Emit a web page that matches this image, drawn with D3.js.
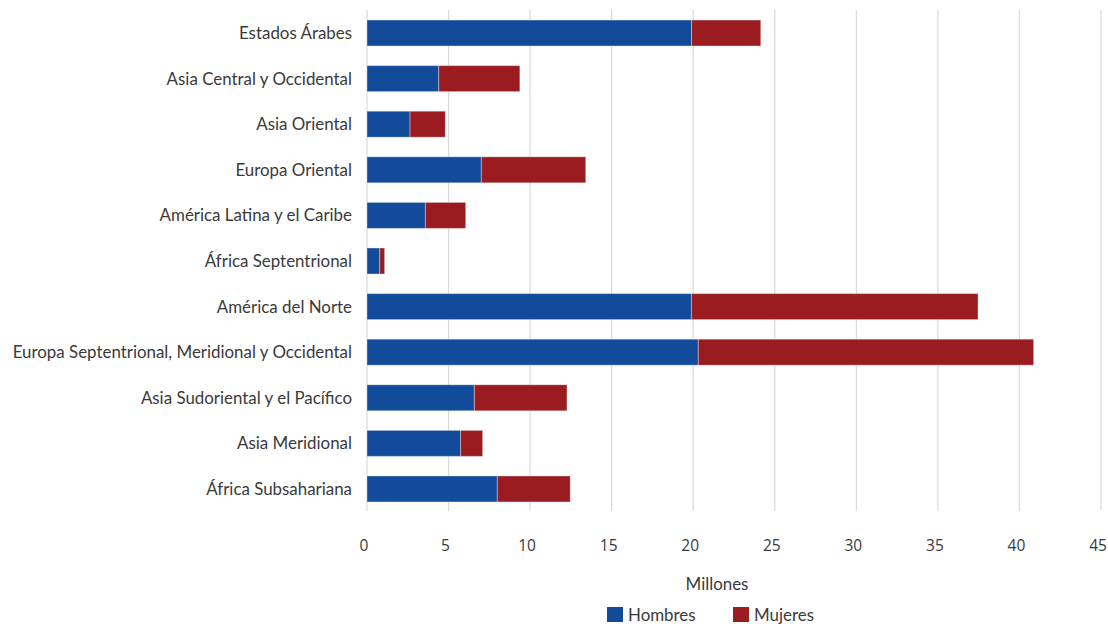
<!DOCTYPE html>
<html>
<head>
<meta charset="utf-8">
<script src="https://cdn.jsdelivr.net/npm/d3@7"></script>
<style>
  html, body { margin: 0; padding: 0; background: #ffffff; }
  svg { display: block; }
</style>
</head>
<body>
<svg id="chart" width="1108" height="624"></svg>
<script>
const categories = [
  "Estados Árabes",
  "Asia Central y Occidental",
  "Asia Oriental",
  "Europa Oriental",
  "América Latina y el Caribe",
  "África Septentrional",
  "América del Norte",
  "Europa Septentrional, Meridional y Occidental",
  "Asia Sudoriental y el Pacífico",
  "Asia Meridional",
  "África Subsahariana"
];
const hombres = [19.9, 4.4, 2.64, 7.01, 3.58, 0.78, 19.89, 20.31, 6.58, 5.74, 7.99];
const mujeres = [4.24, 4.97, 2.16, 6.4, 2.47, 0.3, 17.57, 20.56, 5.68, 1.35, 4.47];
const seriesNames = ["Hombres", "Mujeres"];
const xTicks = [0, 5, 10, 15, 20, 25, 30, 35, 40, 45];
const axisTitle = "Millones";

const colors = { Hombres: "#134b9b", Mujeres: "#9a1c20" };
const textColor = "#3a3a3a";
const labelFont = "Lato, 'Open Sans', sans-serif";
const labelSize = 16.9;

const svg = d3.select("#chart");

const x = d3.scaleLinear().domain([0, 45]).range([367, 1101]);
const y = d3.scaleBand().domain(categories).range([10, 512]).paddingInner(0.43).paddingOuter(0.22);

// gridlines
svg.append("g").selectAll("line").data(xTicks).join("line")
  .attr("x1", d => x(d)).attr("x2", d => x(d))
  .attr("y1", 10).attr("y2", 511)
  .attr("stroke", "#d9d9d9").attr("stroke-width", 1.2);

// stacked data
const rows = categories.map((c, i) => ({ cat: c, Hombres: hombres[i], Mujeres: mujeres[i] }));
const stack = d3.stack().keys(seriesNames)(rows);

svg.append("g").selectAll("g").data(stack).join("g")
  .attr("fill", d => colors[d.key])
  .selectAll("rect").data(d => d).join("rect")
  .attr("x", d => x(d[0]))
  .attr("y", d => y(d.data.cat))
  .attr("width", d => x(d[1]) - x(d[0]))
  .attr("height", y.bandwidth())
  .attr("stroke", "#ffffff").attr("stroke-opacity", 0.35).attr("stroke-width", 1);

// category labels
svg.append("g").selectAll("text").data(categories).join("text")
  .attr("x", 352)
  .attr("y", d => y(d) + y.bandwidth() / 2)
  .attr("dy", "0.35em")
  .attr("text-anchor", "end")
  .attr("font-family", labelFont)
  .attr("font-size", labelSize)
  .attr("fill", textColor)
  .text(d => d);

// x tick labels
svg.append("g").selectAll("text").data(xTicks).join("text")
  .attr("x", d => x(d) - 3)
  .attr("y", 546)
  .attr("dy", "0.35em")
  .attr("text-anchor", "middle")
  .attr("font-family", "'Open Sans', sans-serif")
  .attr("font-size", 15.5)
  .attr("fill", textColor)
  .text(d => d);

// axis title
svg.append("text")
  .attr("x", 717).attr("y", 584).attr("dy", "0.35em")
  .attr("text-anchor", "middle")
  .attr("font-family", labelFont)
  .attr("font-size", labelSize)
  .attr("fill", textColor)
  .text(axisTitle);

// legend
const legendX = [607, 733];
const lg = svg.append("g").selectAll("g").data(seriesNames).join("g")
  .attr("transform", (d, i) => `translate(${legendX[i]},607)`);
lg.append("rect").attr("width", 16).attr("height", 15).attr("fill", d => colors[d]);
lg.append("text")
  .attr("x", 21).attr("y", 8).attr("dy", "0.35em")
  .attr("font-family", labelFont)
  .attr("font-size", labelSize)
  .attr("fill", textColor)
  .text(d => d);
</script>
</body>
</html>
